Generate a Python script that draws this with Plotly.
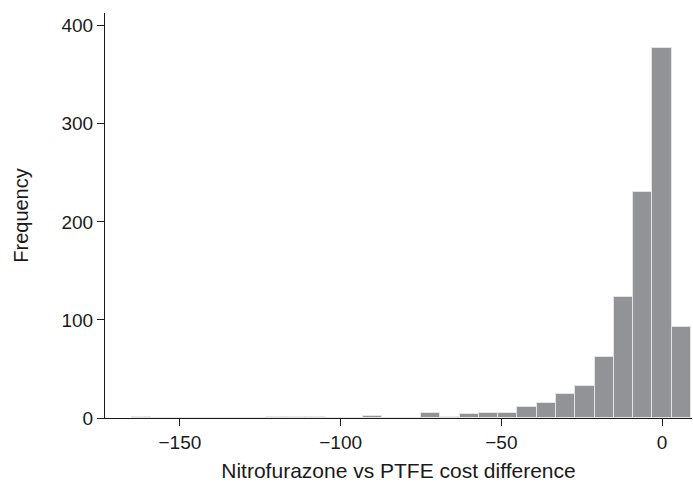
import plotly.graph_objects as go

bin_centers = [-162, -156, -150, -144, -138, -132, -126, -120, -114, -108, -102, -96, -90, -84,
               -78, -72, -66, -60, -54, -48, -42, -36, -30, -24, -18, -12, -6, 0, 6]
counts = [1, 0, 0, 0, 0, 0, 0, 1, 1, 1, 0, 0, 2, 0,
          0, 5, 1, 4, 5, 5, 11, 15, 24, 33, 62, 123, 230, 377, 93]
bin_width = 6
x_ticks = [-150, -100, -50, 0]
y_ticks = [0, 100, 200, 300, 400]

fig = go.Figure(go.Bar(
    x=bin_centers, y=counts, width=bin_width,
    marker=dict(color="#929396", line=dict(color="#e4e4e4", width=1)),
))

font = dict(family="Liberation Sans, Arial, sans-serif", size=19, color="#1a1a1a")
fig.update_layout(
    width=693, height=486,
    margin=dict(l=105, r=1, t=13, b=68),
    plot_bgcolor="white", paper_bgcolor="white",
    font=font, showlegend=False, bargap=0,
)
fig.update_xaxes(
    range=[-173.3, 9.3], tickvals=x_ticks, ticks="outside", ticklen=7, tickcolor="#1a1a1a",
    showline=True, linecolor="#1a1a1a", linewidth=1, showgrid=False, zeroline=False,
    automargin=False,
    title=dict(text="Nitrofurazone vs PTFE cost difference", font=dict(size=21), standoff=11),
)
fig.update_yaxes(
    range=[0, 413], tickvals=y_ticks, ticks="outside", ticklen=7, tickcolor="#1a1a1a",
    showline=True, linecolor="#1a1a1a", linewidth=1, showgrid=False, zeroline=False,
    automargin=False,
    title=dict(text="Frequency", font=dict(size=20), standoff=27),
)
fig.write_html("out.html")
